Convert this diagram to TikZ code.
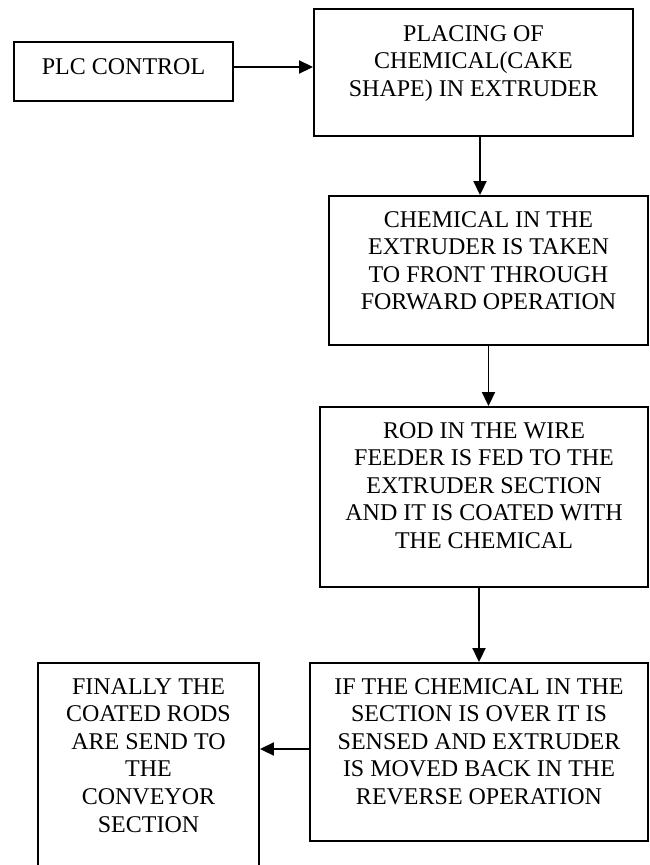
\documentclass[tikz,border=0pt]{standalone}
\usepackage{fontspec}
\setmainfont{Liberation Serif}
\usetikzlibrary{arrows.meta}
\tikzset{
	box/.style={draw,line width=1.9pt,rectangle,inner sep=0pt},
	txt/.style={anchor=north,align=center,inner sep=0pt,font=\fontsize{24}{27.6}\selectfont},
	flow/.style={line width=1.9pt,-{Triangle[length=14pt,width=13pt]}}
}
\begin{document}
\begin{tikzpicture}[x=1pt,y=-1pt]
	\useasboundingbox (0,0) rectangle (650,865);
	\node[box,minimum width=219pt,minimum height=59pt] (plc) at (123.5,71.5) {};
	\node[box,minimum width=319pt,minimum height=127pt] (placing) at (473.5,72.5) {};
	\node[box,minimum width=319pt,minimum height=149pt] (forward) at (488.5,270.5) {};
	\node[box,minimum width=328pt,minimum height=180pt] (coating) at (484,497) {};
	\node[box,minimum width=338pt,minimum height=178pt] (reverse) at (479,752) {};
	\node[box,minimum width=221pt,minimum height=207pt] (conveyor) at (148.5,766.5) {};
	\node[txt] (plctext) at ([yshift=-17pt]plc.north) {PLC CONTROL};
	\node[txt] (placingtext) at ([yshift=-17pt]placing.north) {PLACING OF\\CHEMICAL(CAKE\\SHAPE) IN EXTRUDER};
	\node[txt] (forwardtext) at ([yshift=-16pt]forward.north) {CHEMICAL IN THE\\EXTRUDER IS TAKEN\\TO FRONT THROUGH\\FORWARD OPERATION};
	\node[txt] (coatingtext) at ([yshift=-16pt]coating.north) {ROD IN THE WIRE\\FEEDER IS FED TO THE\\EXTRUDER SECTION\\AND IT IS COATED WITH\\THE CHEMICAL};
	\node[txt] (reversetext) at ([yshift=-16pt]reverse.north) {IF THE CHEMICAL IN THE\\SECTION IS OVER IT IS\\SENSED AND EXTRUDER\\IS MOVED BACK IN THE\\REVERSE OPERATION};
	\node[txt] (conveyortext) at ([yshift=-16pt]conveyor.north) {FINALLY THE\\COATED RODS\\ARE SEND TO\\THE\\CONVEYOR\\SECTION};
	\coordinate (feed) at ([yshift=4.5pt]plc.east);
	\coordinate (drop) at ([xshift=6.5pt]placing.south);
	\coordinate (back) at ([yshift=3pt]reverse.west);
	\draw[flow] (feed) -- (feed -| placing.west);
	\draw[flow] (drop) -- (drop |- forward.north);
	\draw[flow] (forward.south) -- (forward.south |- coating.north);
	\draw[flow] (coating.south -| reverse.north) -- (reverse.north);
	\draw[flow] (back) -- (back -| conveyor.east);
\end{tikzpicture}
\end{document}
